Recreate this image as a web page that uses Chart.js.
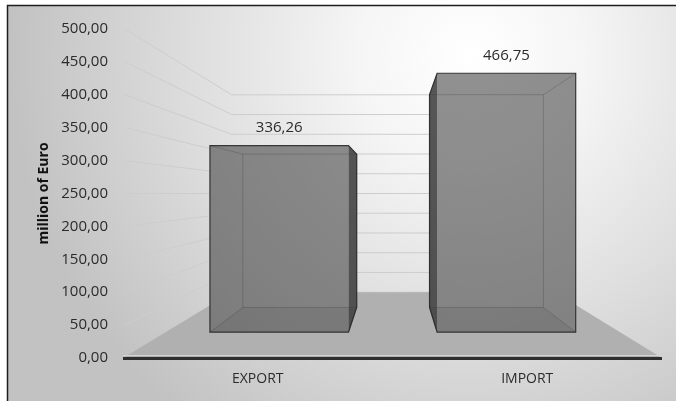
<!DOCTYPE html>
<html>
<head>
<meta charset="utf-8">
<title>Export / Import</title>
<script src="https://cdn.jsdelivr.net/npm/chart.js@4.4.0/dist/chart.umd.min.js"></script>
<style>
  html, body { margin: 0; padding: 0; background: #fff; }
  canvas { display: block; }
</style>
</head>
<body>
<canvas id="tradeChart" width="676" height="401"></canvas>
<script>
// trade totals, million of Euro
const categories = ["EXPORT", "IMPORT"];
const values = [336.26, 466.75];
const yTickValues = [0, 50, 100, 150, 200, 250, 300, 350, 400, 450, 500];

const FONT = "'Open Sans', Lato, sans-serif";
const TEXT = "#2b2b2b";

// depth factors for the fake 3d view (1 = front plane, smaller = further back)
const FLOOR_BACK = 0.6;
const BAR_FRONT = 0.843;
const BAR_BACK = 0.693;

const fmt = (v) => v.toFixed(2).replace(".", ",");

// pull a point towards the vanishing point
function proj(ca, x, y, k) {
  const vx = (ca.left + ca.right) / 2 + 2;
  const vy = (ca.top + ca.bottom) / 2;
  return [vx + (x - vx) * k, vy + (y - vy) * k];
}

function poly(ctx, pts) {
  ctx.moveTo(pts[0][0], pts[0][1]);
  for (let i = 1; i < pts.length; i++) ctx.lineTo(pts[i][0], pts[i][1]);
  ctx.closePath();
}

function barBox(ca, el) {
  const x0 = el.x - el.width / 2, x1 = el.x + el.width / 2;
  const yt = el.y, yb = el.base;
  const f = (x, y) => proj(ca, x, y, BAR_FRONT);
  const b = (x, y) => proj(ca, x, y, BAR_BACK);
  return {
    x0, x1,
    ftl: f(x0, yt), ftr: f(x1, yt), fbr: f(x1, yb), fbl: f(x0, yb),
    btl: b(x0, yt), btr: b(x1, yt), bbr: b(x1, yb), bbl: b(x0, yb),
  };
}

// outline of a box as seen from the front
function silhouette(bx, vx) {
  if (bx.x1 < vx) return [bx.ftl, bx.ftr, bx.btr, bx.bbr, bx.fbr, bx.fbl];
  if (bx.x0 > vx) return [bx.btl, bx.ftl, bx.ftr, bx.fbr, bx.fbl, bx.bbl];
  return [bx.ftl, bx.ftr, bx.fbr, bx.fbl];
}

const backdrop = {
  id: "backdrop",
  beforeDraw(chart) {
    const ctx = chart.ctx;
    const w = chart.width, h = chart.height;
    ctx.save();
    ctx.fillStyle = "#ffffff";
    ctx.fillRect(0, 0, w, h);
    const g = ctx.createRadialGradient(470, 55, 0, 470, 55, 460);
    g.addColorStop(0, "#ffffff");
    g.addColorStop(0.25, "#f5f5f5");
    g.addColorStop(0.6, "#dedede");
    g.addColorStop(1, "#c2c2c2");
    ctx.fillStyle = g;
    ctx.fillRect(7, 5, w - 7, h - 5);
    ctx.strokeStyle = "#1e1e1e";
    ctx.lineWidth = 1.5;
    ctx.beginPath();
    ctx.moveTo(7.5, h);
    ctx.lineTo(7.5, 5.5);
    ctx.lineTo(w, 5.5);
    ctx.stroke();
    ctx.restore();
  },
};

const scene3d = {
  id: "scene3d",
  beforeDatasetsDraw(chart) {
    const ctx = chart.ctx;
    const ca = chart.chartArea;
    const vx = (ca.left + ca.right) / 2 + 2;
    const yScale = chart.scales.y;
    const meta = chart.getDatasetMeta(0);
    const boxes = meta.data.map((el) => barBox(ca, el));

    ctx.save();
    // keep walls and floor out of the bars
    ctx.beginPath();
    ctx.rect(0, 0, chart.width, chart.height);
    boxes.forEach((bx) => poly(ctx, silhouette(bx, vx)));
    ctx.clip("evenodd");

    // grid lines on side wall and back wall
    ctx.strokeStyle = "#cdcdcd";
    ctx.lineWidth = 1;
    yScale.ticks.forEach((t) => {
      const y = yScale.getPixelForValue(t.value);
      const a = proj(ca, ca.left + 2, y, 1);
      const b = proj(ca, ca.left, y, FLOOR_BACK);
      const c = proj(ca, ca.right, y, FLOOR_BACK);
      ctx.beginPath();
      ctx.moveTo(a[0], a[1]);
      ctx.lineTo(b[0], b[1]);
      ctx.lineTo(c[0], c[1]);
      ctx.stroke();
    });

    // floor
    const y0 = yScale.getPixelForValue(0);
    ctx.beginPath();
    poly(ctx, [
      proj(ca, ca.left, y0, 1), proj(ca, ca.right, y0, 1),
      proj(ca, ca.right, y0, FLOOR_BACK), proj(ca, ca.left, y0, FLOOR_BACK),
    ]);
    ctx.fillStyle = "#b0b0b0";
    ctx.fill();
    ctx.restore();

    // front edge of the floor
    ctx.save();
    ctx.strokeStyle = "#d2d2d2";
    ctx.lineWidth = 1;
    ctx.beginPath();
    ctx.moveTo(ca.left, y0 - 2.5);
    ctx.lineTo(ca.right, y0 - 2.5);
    ctx.stroke();
    ctx.strokeStyle = "#2e2e2e";
    ctx.lineWidth = 3;
    ctx.beginPath();
    ctx.moveTo(ca.left, y0 + 0.5);
    ctx.lineTo(ca.right, y0 + 0.5);
    ctx.stroke();
    ctx.restore();

    // the bars, see-through boxes
    ctx.save();
    boxes.forEach((bx) => {
      ctx.beginPath();
      poly(ctx, [bx.ftl, bx.ftr, bx.fbr, bx.fbl]);
      ctx.fillStyle = "rgba(58,58,58,0.56)";
      ctx.fill();

      ctx.beginPath();
      poly(ctx, [bx.bbl, bx.bbr, bx.fbr, bx.fbl]);
      ctx.fillStyle = "rgba(40,40,40,0.08)";
      ctx.fill();

      let side = null;
      if (bx.x1 < vx) side = [bx.ftr, bx.btr, bx.bbr, bx.fbr];
      else if (bx.x0 > vx) side = [bx.btl, bx.ftl, bx.fbl, bx.bbl];
      if (side) {
        ctx.beginPath();
        poly(ctx, side);
        ctx.fillStyle = "rgba(40,40,40,0.78)";
        ctx.fill();
      }

      // hidden edges seen through the glass
      ctx.strokeStyle = "rgba(60,60,60,0.28)";
      ctx.lineWidth = 1;
      ctx.beginPath();
      poly(ctx, [bx.btl, bx.btr, bx.bbr, bx.bbl]);
      ctx.moveTo(bx.ftl[0], bx.ftl[1]); ctx.lineTo(bx.btl[0], bx.btl[1]);
      ctx.moveTo(bx.ftr[0], bx.ftr[1]); ctx.lineTo(bx.btr[0], bx.btr[1]);
      ctx.moveTo(bx.fbr[0], bx.fbr[1]); ctx.lineTo(bx.bbr[0], bx.bbr[1]);
      ctx.moveTo(bx.fbl[0], bx.fbl[1]); ctx.lineTo(bx.bbl[0], bx.bbl[1]);
      ctx.stroke();

      ctx.strokeStyle = "rgba(40,40,40,0.9)";
      ctx.lineWidth = 1.2;
      ctx.beginPath();
      poly(ctx, silhouette(bx, vx));
      ctx.stroke();
    });
    ctx.restore();

    // value labels above the bars
    ctx.save();
    ctx.font = "15px " + FONT;
    ctx.fillStyle = TEXT;
    ctx.textAlign = "center";
    ctx.textBaseline = "middle";
    meta.data.forEach((el, i) => {
      const p = proj(ca, el.x, el.y, BAR_FRONT);
      ctx.fillText(fmt(values[i]), p[0], p[1] - 18);
    });
    ctx.restore();

    return false;
  },
};

new Chart(document.getElementById("tradeChart"), {
  type: "bar",
  data: {
    labels: categories,
    datasets: [
      {
        label: "million of Euro",
        data: values,
        backgroundColor: "rgba(58,58,58,0.56)",
        borderWidth: 0,
        barPercentage: 0.61,
        categoryPercentage: 1,
      },
    ],
  },
  options: {
    responsive: false,
    animation: false,
    layout: { padding: { left: 0, top: 29, right: 14, bottom: 0 } },
    plugins: {
      legend: { display: false },
      tooltip: { enabled: false },
    },
    scales: {
      x: {
        grid: { display: false, drawTicks: false },
        border: { display: false },
        ticks: { color: TEXT, font: { family: FONT, size: 14 }, padding: 13 },
        afterFit: (s) => { s.height = 43; },
      },
      y: {
        min: yTickValues[0],
        max: yTickValues[yTickValues.length - 1],
        afterBuildTicks: (s) => { s.ticks = yTickValues.map((v) => ({ value: v })); },
        grid: { display: false, drawTicks: false },
        border: { display: false },
        ticks: {
          color: TEXT,
          font: { family: FONT, size: 15 },
          padding: 15,
          callback: (v) => fmt(v),
        },
        title: {
          display: true,
          text: "million of Euro",
          color: "#111111",
          font: { family: FONT, size: 14, weight: "bold" },
          padding: { top: 36, bottom: 0 },
        },
        afterFit: (s) => { s.width = 123; },
      },
    },
  },
  plugins: [backdrop, scene3d],
});
</script>
</body>
</html>
